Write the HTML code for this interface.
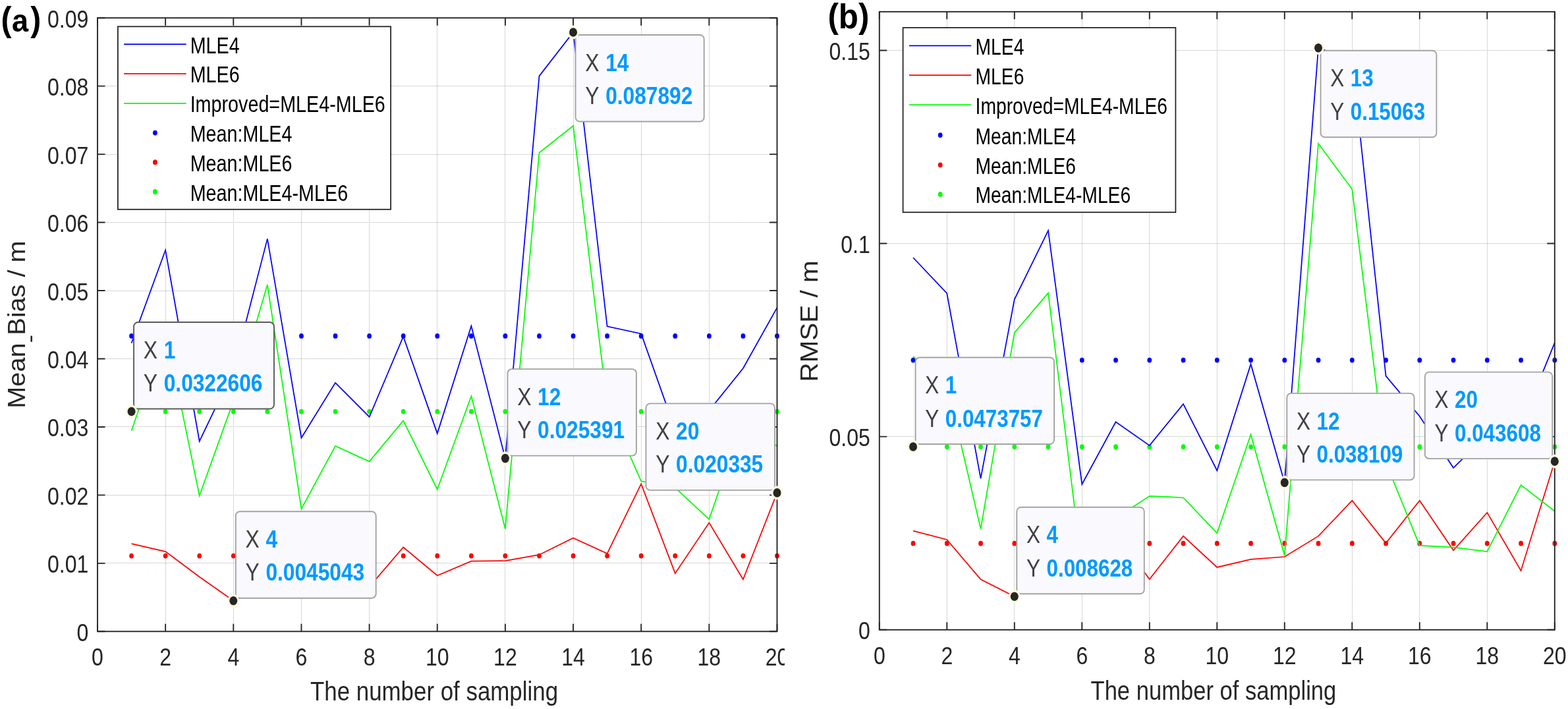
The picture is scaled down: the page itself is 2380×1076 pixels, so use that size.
<!DOCTYPE html><html><head><meta charset="utf-8"><title>MLE4 vs MLE6</title><style>html,body{margin:0;padding:0;background:#fff;overflow:hidden}svg{display:block}text{font-family:"Liberation Sans", Arial, Helvetica, sans-serif}</style></head><body>
<svg width="2380" height="1076" viewBox="0 0 2380 1076">
<defs><clipPath id="clipA"><rect x="0" y="0" width="1191" height="1076"/></clipPath></defs>
<rect width="2380" height="1076" fill="#ffffff"/>
<g clip-path="url(#clipA)">
<g>
<path d="M251.5 27.2V958.3M354.5 27.2V958.3M457.5 27.2V958.3M560.5 27.2V958.3M663.5 27.2V958.3M766.5 27.2V958.3M870.5 27.2V958.3M973.5 27.2V958.3M1076.5 27.2V958.3M148 854.5H1179.5M148 751.5H1179.5M148 647.5H1179.5M148 544.5H1179.5M148 441.5H1179.5M148 337.5H1179.5M148 234.5H1179.5M148 130.5H1179.5" stroke="#b0b0b0" stroke-width="1" stroke-dasharray="1 1" fill="none"/>
<ellipse cx="199.57" cy="509.92" rx="3.4" ry="3.9" fill="#0000ff"/>
<ellipse cx="251.15" cy="509.92" rx="3.4" ry="3.9" fill="#0000ff"/>
<ellipse cx="302.73" cy="509.92" rx="3.4" ry="3.9" fill="#0000ff"/>
<ellipse cx="354.3" cy="509.92" rx="3.4" ry="3.9" fill="#0000ff"/>
<ellipse cx="405.88" cy="509.92" rx="3.4" ry="3.9" fill="#0000ff"/>
<ellipse cx="457.45" cy="509.92" rx="3.4" ry="3.9" fill="#0000ff"/>
<ellipse cx="509.02" cy="509.92" rx="3.4" ry="3.9" fill="#0000ff"/>
<ellipse cx="560.6" cy="509.92" rx="3.4" ry="3.9" fill="#0000ff"/>
<ellipse cx="612.17" cy="509.92" rx="3.4" ry="3.9" fill="#0000ff"/>
<ellipse cx="663.75" cy="509.92" rx="3.4" ry="3.9" fill="#0000ff"/>
<ellipse cx="715.33" cy="509.92" rx="3.4" ry="3.9" fill="#0000ff"/>
<ellipse cx="766.9" cy="509.92" rx="3.4" ry="3.9" fill="#0000ff"/>
<ellipse cx="818.48" cy="509.92" rx="3.4" ry="3.9" fill="#0000ff"/>
<ellipse cx="870.05" cy="509.92" rx="3.4" ry="3.9" fill="#0000ff"/>
<ellipse cx="921.62" cy="509.92" rx="3.4" ry="3.9" fill="#0000ff"/>
<ellipse cx="973.2" cy="509.92" rx="3.4" ry="3.9" fill="#0000ff"/>
<ellipse cx="1024.78" cy="509.92" rx="3.4" ry="3.9" fill="#0000ff"/>
<ellipse cx="1076.35" cy="509.92" rx="3.4" ry="3.9" fill="#0000ff"/>
<ellipse cx="1127.92" cy="509.92" rx="3.4" ry="3.9" fill="#0000ff"/>
<ellipse cx="1179.5" cy="509.92" rx="3.4" ry="3.9" fill="#0000ff"/>
<ellipse cx="199.57" cy="843.59" rx="3.4" ry="3.9" fill="#ff0000"/>
<ellipse cx="251.15" cy="843.59" rx="3.4" ry="3.9" fill="#ff0000"/>
<ellipse cx="302.73" cy="843.59" rx="3.4" ry="3.9" fill="#ff0000"/>
<ellipse cx="354.3" cy="843.59" rx="3.4" ry="3.9" fill="#ff0000"/>
<ellipse cx="405.88" cy="843.59" rx="3.4" ry="3.9" fill="#ff0000"/>
<ellipse cx="457.45" cy="843.59" rx="3.4" ry="3.9" fill="#ff0000"/>
<ellipse cx="509.02" cy="843.59" rx="3.4" ry="3.9" fill="#ff0000"/>
<ellipse cx="560.6" cy="843.59" rx="3.4" ry="3.9" fill="#ff0000"/>
<ellipse cx="612.17" cy="843.59" rx="3.4" ry="3.9" fill="#ff0000"/>
<ellipse cx="663.75" cy="843.59" rx="3.4" ry="3.9" fill="#ff0000"/>
<ellipse cx="715.33" cy="843.59" rx="3.4" ry="3.9" fill="#ff0000"/>
<ellipse cx="766.9" cy="843.59" rx="3.4" ry="3.9" fill="#ff0000"/>
<ellipse cx="818.48" cy="843.59" rx="3.4" ry="3.9" fill="#ff0000"/>
<ellipse cx="870.05" cy="843.59" rx="3.4" ry="3.9" fill="#ff0000"/>
<ellipse cx="921.62" cy="843.59" rx="3.4" ry="3.9" fill="#ff0000"/>
<ellipse cx="973.2" cy="843.59" rx="3.4" ry="3.9" fill="#ff0000"/>
<ellipse cx="1024.78" cy="843.59" rx="3.4" ry="3.9" fill="#ff0000"/>
<ellipse cx="1076.35" cy="843.59" rx="3.4" ry="3.9" fill="#ff0000"/>
<ellipse cx="1127.92" cy="843.59" rx="3.4" ry="3.9" fill="#ff0000"/>
<ellipse cx="1179.5" cy="843.59" rx="3.4" ry="3.9" fill="#ff0000"/>
<ellipse cx="199.57" cy="624.55" rx="3.4" ry="3.9" fill="#00ff00"/>
<ellipse cx="251.15" cy="624.55" rx="3.4" ry="3.9" fill="#00ff00"/>
<ellipse cx="302.73" cy="624.55" rx="3.4" ry="3.9" fill="#00ff00"/>
<ellipse cx="354.3" cy="624.55" rx="3.4" ry="3.9" fill="#00ff00"/>
<ellipse cx="405.88" cy="624.55" rx="3.4" ry="3.9" fill="#00ff00"/>
<ellipse cx="457.45" cy="624.55" rx="3.4" ry="3.9" fill="#00ff00"/>
<ellipse cx="509.02" cy="624.55" rx="3.4" ry="3.9" fill="#00ff00"/>
<ellipse cx="560.6" cy="624.55" rx="3.4" ry="3.9" fill="#00ff00"/>
<ellipse cx="612.17" cy="624.55" rx="3.4" ry="3.9" fill="#00ff00"/>
<ellipse cx="663.75" cy="624.55" rx="3.4" ry="3.9" fill="#00ff00"/>
<ellipse cx="715.33" cy="624.55" rx="3.4" ry="3.9" fill="#00ff00"/>
<ellipse cx="766.9" cy="624.55" rx="3.4" ry="3.9" fill="#00ff00"/>
<ellipse cx="818.48" cy="624.55" rx="3.4" ry="3.9" fill="#00ff00"/>
<ellipse cx="870.05" cy="624.55" rx="3.4" ry="3.9" fill="#00ff00"/>
<ellipse cx="921.62" cy="624.55" rx="3.4" ry="3.9" fill="#00ff00"/>
<ellipse cx="973.2" cy="624.55" rx="3.4" ry="3.9" fill="#00ff00"/>
<ellipse cx="1024.78" cy="624.55" rx="3.4" ry="3.9" fill="#00ff00"/>
<ellipse cx="1076.35" cy="624.55" rx="3.4" ry="3.9" fill="#00ff00"/>
<ellipse cx="1127.92" cy="624.55" rx="3.4" ry="3.9" fill="#00ff00"/>
<ellipse cx="1179.5" cy="624.55" rx="3.4" ry="3.9" fill="#00ff00"/>
<polyline points="199.57,520.79 251.15,379.57 302.73,669.56 354.3,562.07 405.88,362.4 457.45,664.49 509.02,580.89 560.6,632.73 612.17,510.65 663.75,657.87 715.33,494.72 766.9,695.62 818.48,115.34 870.05,49.01 921.62,495.34 973.2,506.41 1024.78,652.07 1076.35,623.1 1127.92,558.96 1179.5,466.89" fill="none" stroke="#0000ff" stroke-width="1.75" stroke-linejoin="miter"/>
<polyline points="199.57,825.05 251.15,837.05 302.73,875.54 354.3,911.7 405.88,888.67 457.45,850.5 509.02,862.29 560.6,890.64 612.17,830.53 663.75,873.47 715.33,851.74 766.9,851.22 818.48,841.91 870.05,816.36 921.62,840.05 973.2,734.42 1024.78,870.16 1076.35,793.29 1127.92,879.26 1179.5,747.92" fill="none" stroke="#ff0000" stroke-width="1.75" stroke-linejoin="miter"/>
<polyline points="199.57,654.04 251.15,500.82 302.73,752.32 354.3,608.66 405.88,432.02 457.45,772.29 509.02,676.9 560.6,700.39 612.17,638.42 663.75,742.7 715.33,601.27 766.9,802.69 818.48,231.73 870.05,190.95 921.62,613.59 973.2,730.28 1024.78,740.22 1076.35,788.12 1127.92,638 1179.5,677.26" fill="none" stroke="#00ff00" stroke-width="1.75" stroke-linejoin="miter"/>
<path d="M148 958.3v-11.5M148 27.2v11.5M251.15 958.3v-11.5M251.15 27.2v11.5M354.3 958.3v-11.5M354.3 27.2v11.5M457.45 958.3v-11.5M457.45 27.2v11.5M560.6 958.3v-11.5M560.6 27.2v11.5M663.75 958.3v-11.5M663.75 27.2v11.5M766.9 958.3v-11.5M766.9 27.2v11.5M870.05 958.3v-11.5M870.05 27.2v11.5M973.2 958.3v-11.5M973.2 27.2v11.5M1076.35 958.3v-11.5M1076.35 27.2v11.5M1179.5 958.3v-11.5M1179.5 27.2v11.5M148 958.3h11.5M1179.5 958.3h-11.5M148 854.84h11.5M1179.5 854.84h-11.5M148 751.39h11.5M1179.5 751.39h-11.5M148 647.93h11.5M1179.5 647.93h-11.5M148 544.48h11.5M1179.5 544.48h-11.5M148 441.02h11.5M1179.5 441.02h-11.5M148 337.57h11.5M1179.5 337.57h-11.5M148 234.11h11.5M1179.5 234.11h-11.5M148 130.66h11.5M1179.5 130.66h-11.5M148 27.2h11.5M1179.5 27.2h-11.5" stroke="#262626" stroke-width="1.9" fill="none"/>
<rect x="148" y="27.2" width="1031.5" height="931.1" fill="none" stroke="#262626" stroke-width="1.9"/>
<text transform="translate(116.58 972.8) scale(0.866 1)" font-size="37" fill="#262626">0</text>
<text transform="translate(72.04 869.34) scale(0.866 1)" font-size="37" fill="#262626">0.01</text>
<text transform="translate(72.04 765.89) scale(0.866 1)" font-size="37" fill="#262626">0.02</text>
<text transform="translate(72.04 662.43) scale(0.866 1)" font-size="37" fill="#262626">0.03</text>
<text transform="translate(72.04 558.98) scale(0.866 1)" font-size="37" fill="#262626">0.04</text>
<text transform="translate(72.04 455.52) scale(0.866 1)" font-size="37" fill="#262626">0.05</text>
<text transform="translate(72.04 352.07) scale(0.866 1)" font-size="37" fill="#262626">0.06</text>
<text transform="translate(72.04 248.61) scale(0.866 1)" font-size="37" fill="#262626">0.07</text>
<text transform="translate(72.04 145.16) scale(0.866 1)" font-size="37" fill="#262626">0.08</text>
<text transform="translate(72.04 41.7) scale(0.866 1)" font-size="37" fill="#262626">0.09</text>
<text transform="translate(139.09 1009.9) scale(0.866 1)" font-size="37" fill="#262626">0</text>
<text transform="translate(242.24 1009.9) scale(0.866 1)" font-size="37" fill="#262626">2</text>
<text transform="translate(345.39 1009.9) scale(0.866 1)" font-size="37" fill="#262626">4</text>
<text transform="translate(448.54 1009.9) scale(0.866 1)" font-size="37" fill="#262626">6</text>
<text transform="translate(551.69 1009.9) scale(0.866 1)" font-size="37" fill="#262626">8</text>
<text transform="translate(645.93 1009.9) scale(0.866 1)" font-size="37" fill="#262626">10</text>
<text transform="translate(749.08 1009.9) scale(0.866 1)" font-size="37" fill="#262626">12</text>
<text transform="translate(852.23 1009.9) scale(0.866 1)" font-size="37" fill="#262626">14</text>
<text transform="translate(955.38 1009.9) scale(0.866 1)" font-size="37" fill="#262626">16</text>
<text transform="translate(1058.53 1009.9) scale(0.866 1)" font-size="37" fill="#262626">18</text>
<text transform="translate(1161.68 1009.9) scale(0.866 1)" font-size="37" fill="#262626">20</text>
</g>
<rect x="178.9" y="40.3" width="414.2" height="277.5" fill="#ffffff" stroke="#262626" stroke-width="1.8"/>
<line x1="188" y1="67.1" x2="282.7" y2="67.1" stroke="#0000ff" stroke-width="1.7"/>
<line x1="188" y1="111.8" x2="282.7" y2="111.8" stroke="#ff0000" stroke-width="1.7"/>
<line x1="188" y1="156.8" x2="282.7" y2="156.8" stroke="#00ff00" stroke-width="1.7"/>
<ellipse cx="235.4" cy="201.6" rx="3.4" ry="3.9" fill="#0000ff"/>
<ellipse cx="235.4" cy="246.2" rx="3.4" ry="3.9" fill="#ff0000"/>
<ellipse cx="235.4" cy="291" rx="3.4" ry="3.9" fill="#00ff00"/>
<text transform="translate(288.64 80.6) scale(0.84 1)" font-size="34.2" fill="#000000">MLE4</text>
<text transform="translate(288.64 125.3) scale(0.84 1)" font-size="34.2" fill="#000000">MLE6</text>
<text transform="translate(288.64 170.3) scale(0.84 1)" font-size="34.2" fill="#000000">Improved=MLE4-MLE6</text>
<text transform="translate(288.64 215.1) scale(0.84 1)" font-size="34.2" fill="#000000">Mean:MLE4</text>
<text transform="translate(288.64 259.7) scale(0.84 1)" font-size="34.2" fill="#000000">Mean:MLE6</text>
<text transform="translate(288.64 304.5) scale(0.84 1)" font-size="34.2" fill="#000000">Mean:MLE4-MLE6</text>
<rect x="203.07" y="489.05" width="212.89" height="131.5" rx="6.5" ry="6.5" fill="#f9f9fe" stroke="#5a5a5a" stroke-width="1.9"/>
<text transform="translate(217.86 543.75) scale(0.85 1)" font-size="37.5" fill="#404040">X</text>
<text transform="translate(217.86 594.05) scale(0.85 1)" font-size="37.5" fill="#404040">Y</text>
<text transform="translate(248.72 543.75) scale(0.845 1)" font-size="37.5" font-weight="bold" fill="#0099ff">1</text>
<text transform="translate(248.72 594.05) scale(0.845 1)" font-size="37.5" font-weight="bold" fill="#0099ff">0.0322606</text>
<ellipse cx="199.57" cy="624.55" rx="8.8" ry="10.3" fill="#fffbe0"/>
<ellipse cx="199.57" cy="624.55" rx="6.0" ry="6.8" fill="#262626"/>
<rect x="357.8" y="776.2" width="212.89" height="131.5" rx="6.5" ry="6.5" fill="#f9f9fe" stroke="#a3a3a3" stroke-width="1.9"/>
<text transform="translate(372.58 830.9) scale(0.85 1)" font-size="37.5" fill="#404040">X</text>
<text transform="translate(372.58 881.2) scale(0.85 1)" font-size="37.5" fill="#404040">Y</text>
<text transform="translate(403.45 830.9) scale(0.845 1)" font-size="37.5" font-weight="bold" fill="#0099ff">4</text>
<text transform="translate(403.45 881.2) scale(0.845 1)" font-size="37.5" font-weight="bold" fill="#0099ff">0.0045043</text>
<ellipse cx="354.3" cy="911.7" rx="8.8" ry="10.3" fill="#fffbe0"/>
<ellipse cx="354.3" cy="911.7" rx="6.0" ry="6.8" fill="#262626"/>
<rect x="873.55" y="53.01" width="195.14" height="131.5" rx="6.5" ry="6.5" fill="#f9f9fe" stroke="#a3a3a3" stroke-width="1.9"/>
<text transform="translate(888.33 107.71) scale(0.85 1)" font-size="37.5" fill="#404040">X</text>
<text transform="translate(888.33 158.01) scale(0.85 1)" font-size="37.5" fill="#404040">Y</text>
<text transform="translate(919.2 107.71) scale(0.845 1)" font-size="37.5" font-weight="bold" fill="#0099ff">14</text>
<text transform="translate(919.2 158.01) scale(0.845 1)" font-size="37.5" font-weight="bold" fill="#0099ff">0.087892</text>
<ellipse cx="870.05" cy="49.01" rx="8.8" ry="10.3" fill="#fffbe0"/>
<ellipse cx="870.05" cy="49.01" rx="6.0" ry="6.8" fill="#262626"/>
<rect x="770.4" y="560.12" width="195.53" height="131.5" rx="6.5" ry="6.5" fill="#f9f9fe" stroke="#a3a3a3" stroke-width="1.9"/>
<text transform="translate(785.18 614.82) scale(0.85 1)" font-size="37.5" fill="#404040">X</text>
<text transform="translate(785.18 665.12) scale(0.85 1)" font-size="37.5" fill="#404040">Y</text>
<text transform="translate(816.05 614.82) scale(0.845 1)" font-size="37.5" font-weight="bold" fill="#0099ff">12</text>
<text transform="translate(816.05 665.12) scale(0.845 1)" font-size="37.5" font-weight="bold" fill="#0099ff">0.025391</text>
<ellipse cx="766.9" cy="695.62" rx="8.8" ry="10.3" fill="#fffbe0"/>
<ellipse cx="766.9" cy="695.62" rx="6.0" ry="6.8" fill="#262626"/>
<rect x="980.47" y="612.42" width="195.53" height="131.5" rx="6.5" ry="6.5" fill="#f9f9fe" stroke="#a3a3a3" stroke-width="1.9"/>
<text transform="translate(995.25 667.12) scale(0.85 1)" font-size="37.5" fill="#404040">X</text>
<text transform="translate(995.25 717.42) scale(0.85 1)" font-size="37.5" fill="#404040">Y</text>
<text transform="translate(1026.12 667.12) scale(0.845 1)" font-size="37.5" font-weight="bold" fill="#0099ff">20</text>
<text transform="translate(1026.12 717.42) scale(0.845 1)" font-size="37.5" font-weight="bold" fill="#0099ff">0.020335</text>
<ellipse cx="1179.5" cy="747.92" rx="8.8" ry="10.3" fill="#fffbe0"/>
<ellipse cx="1179.5" cy="747.92" rx="6.0" ry="6.8" fill="#262626"/>
<text transform="translate(471.02 1063.4) scale(0.8613 1)" font-size="40.5" font-weight="normal" fill="#262626">The number of sampling</text>
</g>
<g>
<path d="M1437.5 17.8V955.8M1539.5 17.8V955.8M1642.5 17.8V955.8M1744.5 17.8V955.8M1847.5 17.8V955.8M1949.5 17.8V955.8M2052.5 17.8V955.8M2154.5 17.8V955.8M2257.5 17.8V955.8M1334.8 662.5H2359.8M1334.8 369.5H2359.8M1334.8 76.5H2359.8" stroke="#b0b0b0" stroke-width="1" stroke-dasharray="1 1" fill="none"/>
<ellipse cx="1386.05" cy="546.61" rx="3.4" ry="3.9" fill="#0000ff"/>
<ellipse cx="1437.3" cy="546.61" rx="3.4" ry="3.9" fill="#0000ff"/>
<ellipse cx="1488.55" cy="546.61" rx="3.4" ry="3.9" fill="#0000ff"/>
<ellipse cx="1539.8" cy="546.61" rx="3.4" ry="3.9" fill="#0000ff"/>
<ellipse cx="1591.05" cy="546.61" rx="3.4" ry="3.9" fill="#0000ff"/>
<ellipse cx="1642.3" cy="546.61" rx="3.4" ry="3.9" fill="#0000ff"/>
<ellipse cx="1693.55" cy="546.61" rx="3.4" ry="3.9" fill="#0000ff"/>
<ellipse cx="1744.8" cy="546.61" rx="3.4" ry="3.9" fill="#0000ff"/>
<ellipse cx="1796.05" cy="546.61" rx="3.4" ry="3.9" fill="#0000ff"/>
<ellipse cx="1847.3" cy="546.61" rx="3.4" ry="3.9" fill="#0000ff"/>
<ellipse cx="1898.55" cy="546.61" rx="3.4" ry="3.9" fill="#0000ff"/>
<ellipse cx="1949.8" cy="546.61" rx="3.4" ry="3.9" fill="#0000ff"/>
<ellipse cx="2001.05" cy="546.61" rx="3.4" ry="3.9" fill="#0000ff"/>
<ellipse cx="2052.3" cy="546.61" rx="3.4" ry="3.9" fill="#0000ff"/>
<ellipse cx="2103.55" cy="546.61" rx="3.4" ry="3.9" fill="#0000ff"/>
<ellipse cx="2154.8" cy="546.61" rx="3.4" ry="3.9" fill="#0000ff"/>
<ellipse cx="2206.05" cy="546.61" rx="3.4" ry="3.9" fill="#0000ff"/>
<ellipse cx="2257.3" cy="546.61" rx="3.4" ry="3.9" fill="#0000ff"/>
<ellipse cx="2308.55" cy="546.61" rx="3.4" ry="3.9" fill="#0000ff"/>
<ellipse cx="2359.8" cy="546.61" rx="3.4" ry="3.9" fill="#0000ff"/>
<ellipse cx="1386.05" cy="824.67" rx="3.4" ry="3.9" fill="#ff0000"/>
<ellipse cx="1437.3" cy="824.67" rx="3.4" ry="3.9" fill="#ff0000"/>
<ellipse cx="1488.55" cy="824.67" rx="3.4" ry="3.9" fill="#ff0000"/>
<ellipse cx="1539.8" cy="824.67" rx="3.4" ry="3.9" fill="#ff0000"/>
<ellipse cx="1591.05" cy="824.67" rx="3.4" ry="3.9" fill="#ff0000"/>
<ellipse cx="1642.3" cy="824.67" rx="3.4" ry="3.9" fill="#ff0000"/>
<ellipse cx="1693.55" cy="824.67" rx="3.4" ry="3.9" fill="#ff0000"/>
<ellipse cx="1744.8" cy="824.67" rx="3.4" ry="3.9" fill="#ff0000"/>
<ellipse cx="1796.05" cy="824.67" rx="3.4" ry="3.9" fill="#ff0000"/>
<ellipse cx="1847.3" cy="824.67" rx="3.4" ry="3.9" fill="#ff0000"/>
<ellipse cx="1898.55" cy="824.67" rx="3.4" ry="3.9" fill="#ff0000"/>
<ellipse cx="1949.8" cy="824.67" rx="3.4" ry="3.9" fill="#ff0000"/>
<ellipse cx="2001.05" cy="824.67" rx="3.4" ry="3.9" fill="#ff0000"/>
<ellipse cx="2052.3" cy="824.67" rx="3.4" ry="3.9" fill="#ff0000"/>
<ellipse cx="2103.55" cy="824.67" rx="3.4" ry="3.9" fill="#ff0000"/>
<ellipse cx="2154.8" cy="824.67" rx="3.4" ry="3.9" fill="#ff0000"/>
<ellipse cx="2206.05" cy="824.67" rx="3.4" ry="3.9" fill="#ff0000"/>
<ellipse cx="2257.3" cy="824.67" rx="3.4" ry="3.9" fill="#ff0000"/>
<ellipse cx="2308.55" cy="824.67" rx="3.4" ry="3.9" fill="#ff0000"/>
<ellipse cx="2359.8" cy="824.67" rx="3.4" ry="3.9" fill="#ff0000"/>
<ellipse cx="1386.05" cy="678.06" rx="3.4" ry="3.9" fill="#00ff00"/>
<ellipse cx="1437.3" cy="678.06" rx="3.4" ry="3.9" fill="#00ff00"/>
<ellipse cx="1488.55" cy="678.06" rx="3.4" ry="3.9" fill="#00ff00"/>
<ellipse cx="1539.8" cy="678.06" rx="3.4" ry="3.9" fill="#00ff00"/>
<ellipse cx="1591.05" cy="678.06" rx="3.4" ry="3.9" fill="#00ff00"/>
<ellipse cx="1642.3" cy="678.06" rx="3.4" ry="3.9" fill="#00ff00"/>
<ellipse cx="1693.55" cy="678.06" rx="3.4" ry="3.9" fill="#00ff00"/>
<ellipse cx="1744.8" cy="678.06" rx="3.4" ry="3.9" fill="#00ff00"/>
<ellipse cx="1796.05" cy="678.06" rx="3.4" ry="3.9" fill="#00ff00"/>
<ellipse cx="1847.3" cy="678.06" rx="3.4" ry="3.9" fill="#00ff00"/>
<ellipse cx="1898.55" cy="678.06" rx="3.4" ry="3.9" fill="#00ff00"/>
<ellipse cx="1949.8" cy="678.06" rx="3.4" ry="3.9" fill="#00ff00"/>
<ellipse cx="2001.05" cy="678.06" rx="3.4" ry="3.9" fill="#00ff00"/>
<ellipse cx="2052.3" cy="678.06" rx="3.4" ry="3.9" fill="#00ff00"/>
<ellipse cx="2103.55" cy="678.06" rx="3.4" ry="3.9" fill="#00ff00"/>
<ellipse cx="2154.8" cy="678.06" rx="3.4" ry="3.9" fill="#00ff00"/>
<ellipse cx="2206.05" cy="678.06" rx="3.4" ry="3.9" fill="#00ff00"/>
<ellipse cx="2257.3" cy="678.06" rx="3.4" ry="3.9" fill="#00ff00"/>
<ellipse cx="2308.55" cy="678.06" rx="3.4" ry="3.9" fill="#00ff00"/>
<ellipse cx="2359.8" cy="678.06" rx="3.4" ry="3.9" fill="#00ff00"/>
<polyline points="1386.05,391.01 1437.3,445.23 1488.55,726.11 1539.8,454.32 1591.05,349.91 1642.3,734.9 1693.55,640.4 1744.8,676.1 1796.05,613.08 1847.3,714.15 1898.55,552.64 1949.8,732.39 2001.05,72.73 2052.3,90.91 2103.55,570.58 2154.8,631.78 2206.05,710.04 2257.3,659.27 2308.55,646.49 2359.8,520.1" fill="none" stroke="#0000ff" stroke-width="1.75" stroke-linejoin="miter"/>
<polyline points="1386.05,805.54 1437.3,818.97 1488.55,879.29 1539.8,905.22 1591.05,861.06 1642.3,829.17 1693.55,809.82 1744.8,879.06 1796.05,813.63 1847.3,860.94 1898.55,848.99 1949.8,845 2001.05,813.63 2052.3,759.64 2103.55,824.36 2154.8,759.64 2206.05,835.27 2257.3,777.93 2308.55,866.16 2359.8,700.15" fill="none" stroke="#ff0000" stroke-width="1.75" stroke-linejoin="miter"/>
<polyline points="1386.05,541.26 1437.3,582.07 1488.55,802.61 1539.8,504.9 1591.05,444.65 1642.3,861.53 1693.55,786.37 1744.8,752.84 1796.05,755.24 1847.3,809 1898.55,659.45 1949.8,843.19 2001.05,217.83 2052.3,287.06 2103.55,702.01 2154.8,827.94 2206.05,830.58 2257.3,837.14 2308.55,736.13 2359.8,775.75" fill="none" stroke="#00ff00" stroke-width="1.75" stroke-linejoin="miter"/>
<path d="M1334.8 955.8v-11.5M1334.8 17.8v11.5M1437.3 955.8v-11.5M1437.3 17.8v11.5M1539.8 955.8v-11.5M1539.8 17.8v11.5M1642.3 955.8v-11.5M1642.3 17.8v11.5M1744.8 955.8v-11.5M1744.8 17.8v11.5M1847.3 955.8v-11.5M1847.3 17.8v11.5M1949.8 955.8v-11.5M1949.8 17.8v11.5M2052.3 955.8v-11.5M2052.3 17.8v11.5M2154.8 955.8v-11.5M2154.8 17.8v11.5M2257.3 955.8v-11.5M2257.3 17.8v11.5M2359.8 955.8v-11.5M2359.8 17.8v11.5M1334.8 955.8h11.5M2359.8 955.8h-11.5M1334.8 662.67h11.5M2359.8 662.67h-11.5M1334.8 369.55h11.5M2359.8 369.55h-11.5M1334.8 76.43h11.5M2359.8 76.43h-11.5" stroke="#262626" stroke-width="1.9" fill="none"/>
<rect x="1334.8" y="17.8" width="1025" height="938" fill="none" stroke="#262626" stroke-width="1.9"/>
<text transform="translate(1302.98 970.3) scale(0.866 1)" font-size="37" fill="#262626">0</text>
<text transform="translate(1258.44 677.17) scale(0.866 1)" font-size="37" fill="#262626">0.05</text>
<text transform="translate(1276.26 384.05) scale(0.866 1)" font-size="37" fill="#262626">0.1</text>
<text transform="translate(1258.44 90.93) scale(0.866 1)" font-size="37" fill="#262626">0.15</text>
<text transform="translate(1325.89 1008.3) scale(0.866 1)" font-size="37" fill="#262626">0</text>
<text transform="translate(1428.39 1008.3) scale(0.866 1)" font-size="37" fill="#262626">2</text>
<text transform="translate(1530.89 1008.3) scale(0.866 1)" font-size="37" fill="#262626">4</text>
<text transform="translate(1633.39 1008.3) scale(0.866 1)" font-size="37" fill="#262626">6</text>
<text transform="translate(1735.89 1008.3) scale(0.866 1)" font-size="37" fill="#262626">8</text>
<text transform="translate(1829.48 1008.3) scale(0.866 1)" font-size="37" fill="#262626">10</text>
<text transform="translate(1931.98 1008.3) scale(0.866 1)" font-size="37" fill="#262626">12</text>
<text transform="translate(2034.48 1008.3) scale(0.866 1)" font-size="37" fill="#262626">14</text>
<text transform="translate(2136.98 1008.3) scale(0.866 1)" font-size="37" fill="#262626">16</text>
<text transform="translate(2239.48 1008.3) scale(0.866 1)" font-size="37" fill="#262626">18</text>
<text transform="translate(2341.98 1008.3) scale(0.866 1)" font-size="37" fill="#262626">20</text>
</g>
<rect x="1370.6" y="42" width="413.8" height="280.2" fill="#ffffff" stroke="#262626" stroke-width="1.8"/>
<line x1="1380" y1="69.3" x2="1474.3" y2="69.3" stroke="#0000ff" stroke-width="1.7"/>
<line x1="1380" y1="114.2" x2="1474.3" y2="114.2" stroke="#ff0000" stroke-width="1.7"/>
<line x1="1380" y1="159.1" x2="1474.3" y2="159.1" stroke="#00ff00" stroke-width="1.7"/>
<ellipse cx="1427.2" cy="205.1" rx="3.4" ry="3.9" fill="#0000ff"/>
<ellipse cx="1427.2" cy="250.3" rx="3.4" ry="3.9" fill="#ff0000"/>
<ellipse cx="1427.2" cy="294.9" rx="3.4" ry="3.9" fill="#00ff00"/>
<text transform="translate(1480.58 82.7) scale(0.822 1)" font-size="34.4" fill="#000000">MLE4</text>
<text transform="translate(1480.58 127.6) scale(0.822 1)" font-size="34.4" fill="#000000">MLE6</text>
<text transform="translate(1480.58 172.5) scale(0.822 1)" font-size="34.4" fill="#000000">Improved=MLE4-MLE6</text>
<text transform="translate(1480.58 218.5) scale(0.822 1)" font-size="34.4" fill="#000000">Mean:MLE4</text>
<text transform="translate(1480.58 263.7) scale(0.822 1)" font-size="34.4" fill="#000000">Mean:MLE6</text>
<text transform="translate(1480.58 308.3) scale(0.822 1)" font-size="34.4" fill="#000000">Mean:MLE4-MLE6</text>
<rect x="1389.55" y="542.56" width="210.52" height="131.5" rx="6.5" ry="6.5" fill="#f9f9fe" stroke="#a3a3a3" stroke-width="1.9"/>
<text transform="translate(1404.19 597.26) scale(0.8415 1)" font-size="37.5" fill="#404040">X</text>
<text transform="translate(1404.19 647.56) scale(0.8415 1)" font-size="37.5" fill="#404040">Y</text>
<text transform="translate(1434.74 597.26) scale(0.83655 1)" font-size="37.5" font-weight="bold" fill="#0099ff">1</text>
<text transform="translate(1434.74 647.56) scale(0.83655 1)" font-size="37.5" font-weight="bold" fill="#0099ff">0.0473757</text>
<ellipse cx="1386.05" cy="678.06" rx="8.8" ry="10.3" fill="#fffbe0"/>
<ellipse cx="1386.05" cy="678.06" rx="6.0" ry="6.8" fill="#262626"/>
<rect x="1543.3" y="769.72" width="193.48" height="131.5" rx="6.5" ry="6.5" fill="#f9f9fe" stroke="#a3a3a3" stroke-width="1.9"/>
<text transform="translate(1557.94 824.42) scale(0.8415 1)" font-size="37.5" fill="#404040">X</text>
<text transform="translate(1557.94 874.72) scale(0.8415 1)" font-size="37.5" fill="#404040">Y</text>
<text transform="translate(1588.49 824.42) scale(0.83655 1)" font-size="37.5" font-weight="bold" fill="#0099ff">4</text>
<text transform="translate(1588.49 874.72) scale(0.83655 1)" font-size="37.5" font-weight="bold" fill="#0099ff">0.008628</text>
<ellipse cx="1539.8" cy="905.22" rx="8.8" ry="10.3" fill="#fffbe0"/>
<ellipse cx="1539.8" cy="905.22" rx="6.0" ry="6.8" fill="#262626"/>
<rect x="2004.55" y="76.73" width="175.87" height="131.5" rx="6.5" ry="6.5" fill="#f9f9fe" stroke="#a3a3a3" stroke-width="1.9"/>
<text transform="translate(2019.19 131.43) scale(0.8415 1)" font-size="37.5" fill="#404040">X</text>
<text transform="translate(2019.19 181.73) scale(0.8415 1)" font-size="37.5" fill="#404040">Y</text>
<text transform="translate(2049.74 131.43) scale(0.83655 1)" font-size="37.5" font-weight="bold" fill="#0099ff">13</text>
<text transform="translate(2049.74 181.73) scale(0.83655 1)" font-size="37.5" font-weight="bold" fill="#0099ff">0.15063</text>
<ellipse cx="2001.05" cy="72.73" rx="8.8" ry="10.3" fill="#fffbe0"/>
<ellipse cx="2001.05" cy="72.73" rx="6.0" ry="6.8" fill="#262626"/>
<rect x="1953.3" y="596.89" width="193.28" height="131.5" rx="6.5" ry="6.5" fill="#f9f9fe" stroke="#a3a3a3" stroke-width="1.9"/>
<text transform="translate(1967.94 651.59) scale(0.8415 1)" font-size="37.5" fill="#404040">X</text>
<text transform="translate(1967.94 701.89) scale(0.8415 1)" font-size="37.5" fill="#404040">Y</text>
<text transform="translate(1998.49 651.59) scale(0.83655 1)" font-size="37.5" font-weight="bold" fill="#0099ff">12</text>
<text transform="translate(1998.49 701.89) scale(0.83655 1)" font-size="37.5" font-weight="bold" fill="#0099ff">0.038109</text>
<ellipse cx="1949.8" cy="732.39" rx="8.8" ry="10.3" fill="#fffbe0"/>
<ellipse cx="1949.8" cy="732.39" rx="6.0" ry="6.8" fill="#262626"/>
<rect x="2162.82" y="564.65" width="193.48" height="131.5" rx="6.5" ry="6.5" fill="#f9f9fe" stroke="#a3a3a3" stroke-width="1.9"/>
<text transform="translate(2177.45 619.35) scale(0.8415 1)" font-size="37.5" fill="#404040">X</text>
<text transform="translate(2177.45 669.65) scale(0.8415 1)" font-size="37.5" fill="#404040">Y</text>
<text transform="translate(2208.01 619.35) scale(0.83655 1)" font-size="37.5" font-weight="bold" fill="#0099ff">20</text>
<text transform="translate(2208.01 669.65) scale(0.83655 1)" font-size="37.5" font-weight="bold" fill="#0099ff">0.043608</text>
<ellipse cx="2359.8" cy="700.15" rx="8.8" ry="10.3" fill="#fffbe0"/>
<ellipse cx="2359.8" cy="700.15" rx="6.0" ry="6.8" fill="#262626"/>
<text transform="translate(1655.52 1061.5) scale(0.8539 1)" font-size="40.5" font-weight="normal" fill="#262626">The number of sampling</text>
<text transform="translate(38.1 619.76) rotate(-90) scale(0.9805 0.9008)" font-size="40.5" fill="#262626">Mean</text>
<text transform="translate(41.24 518.56) rotate(-90) scale(0.3857 1.0000)" font-size="40.5" fill="#262626">_</text>
<text transform="translate(38.1 508.86) rotate(-90) scale(0.9816 0.9008)" font-size="40.5" fill="#262626">Bias / m</text>
<text transform="translate(1241 579.52) rotate(-90) scale(0.9982 0.9187)" font-size="40.5" fill="#262626">RMSE / m</text>
<text transform="translate(1.5 46.8) scale(0.9400 1)" font-size="51.3" font-weight="bold" fill="#000000">(<tspan font-size="48" dy="1.5" dx="0.6">a</tspan><tspan font-size="51.3" dy="-1.5" dx="3.2">)</tspan></text>
<text transform="translate(1256.45 41.6) scale(0.9550 1)" font-size="51.6" font-weight="bold" fill="#000000">(<tspan dy="1.1">b</tspan><tspan dy="-1.1">)</tspan></text>
</svg></body></html>
